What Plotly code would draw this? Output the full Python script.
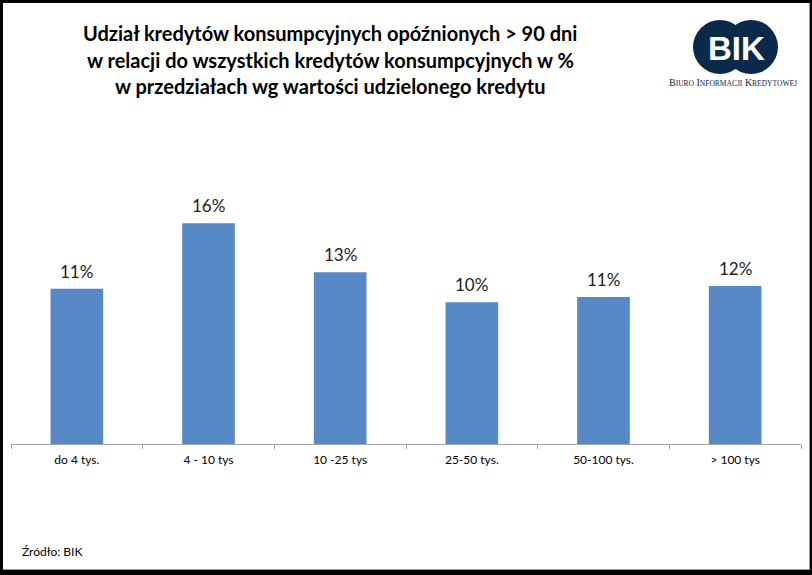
import plotly.graph_objects as go

categories = ["do 4 tys.", "4 - 10 tys", "10 -25 tys", "25-50 tys.", "50-100 tys.", "> 100 tys"]
values = [11.4, 16.2, 12.6, 10.4, 10.8, 11.6]
title_lines = [
    "Udział kredytów konsumpcyjnych opóźnionych > 90 dni",
    "w relacji do wszystkich kredytów konsumpcyjnych w %",
    "w przedziałach wg wartości udzielonego kredytu",
]
source_text = "Źródło: BIK"

W, H = 812, 575
L, R, T, B = 11, 11, 130, 131
PW, PH = W - L - R, H - T - B
YMAX = 23.05

def px(x):
    return (x - L) / PW

def py(y):
    return (H - B - y) / PH

FONT = "Lato, Calibri, Arial, sans-serif"

fig = go.Figure()
fig.add_trace(go.Bar(
    x=categories, y=values,
    marker=dict(color="#5689C5", line=dict(width=0)),
    hoverinfo="skip",
))

annotations = []
for c, v in zip(categories, values):
    annotations.append(dict(
        x=c, y=v, xref="x", yref="y", text=f"{round(v)}%", showarrow=False,
        yanchor="bottom", yshift=5, font=dict(family=FONT, size=17, color="#222222"),
    ))

for line, yc in zip(title_lines, [33, 59.5, 86]):
    annotations.append(dict(
        x=px(330), y=py(yc), xref="paper", yref="paper", text=line, showarrow=False,
        xanchor="center", yanchor="middle",
        font=dict(family=FONT, size=20, color="#000000", weight="bold"),
    ))

annotations.append(dict(
    x=px(20), y=py(551), xref="paper", yref="paper", text=source_text, showarrow=False,
    xanchor="left", yanchor="middle", font=dict(family=FONT, size=12, color="#000000"),
))

# logo text
annotations.append(dict(
    x=px(736), y=py(48), xref="paper", yref="paper", text="<b>BIK</b>", showarrow=False,
    xanchor="center", yanchor="middle",
    font=dict(family="Liberation Sans, Arial, sans-serif", size=33, color="#FFFFFF"),
))
sc = "font-size:7.5px"
annotations.append(dict(
    x=px(733), y=py(83), xref="paper", yref="paper",
    text=(f"B<span style='{sc}'>IURO</span> I<span style='{sc}'>NFORMACJI</span> "
          f"K<span style='{sc}'>REDYTOWEJ</span>"),
    showarrow=False, xanchor="center", yanchor="middle",
    font=dict(family="Liberation Serif, Times New Roman, serif", size=10, color="#0B2A4A"),
))

navy = "#0B2A4A"
shapes = []
r = 27
for cx in (720, 751):
    shapes.append(dict(type="circle", xref="paper", yref="paper",
                       x0=px(cx - r), x1=px(cx + r), y0=py(47 + r), y1=py(47 - r),
                       fillcolor=navy, line=dict(width=0), layer="below"))

# frame
def rect(x0, y0, x1, y1, color):
    return dict(type="rect", xref="paper", yref="paper", x0=px(x0), x1=px(x1),
                y0=py(y1), y1=py(y0), fillcolor=color, line=dict(width=0), layer="above")

shapes += [
    rect(0, 0, W, 3, "#000000"),
    rect(0, 0, 3, H, "#000000"),
    rect(809, 3, 810, 570, "#9a9a9a"),
    rect(3, 569, 810, 570, "#9a9a9a"),
    rect(810, 0, W, H, "#000000"),
    rect(0, 570, W, H, "#000000"),
]

fig.update_layout(
    width=W, height=H,
    margin=dict(l=L, r=R, t=T, b=B),
    paper_bgcolor="#FFFFFF", plot_bgcolor="#FFFFFF",
    bargap=0.6,
    showlegend=False,
    annotations=annotations,
    shapes=shapes,
    font=dict(family=FONT),
    xaxis=dict(
        showline=True, linecolor="#A6A6A6", linewidth=1,
        ticks="outside", tickson="boundaries", ticklen=4, tickcolor="#A6A6A6",
        ticklabelstandoff=5,
        tickfont=dict(family=FONT, size=12, color="#000000"),
        showgrid=False, zeroline=False, fixedrange=True,
    ),
    yaxis=dict(range=[0, YMAX], visible=False, showgrid=False, zeroline=False, fixedrange=True),
)

fig.write_html("out.html")
